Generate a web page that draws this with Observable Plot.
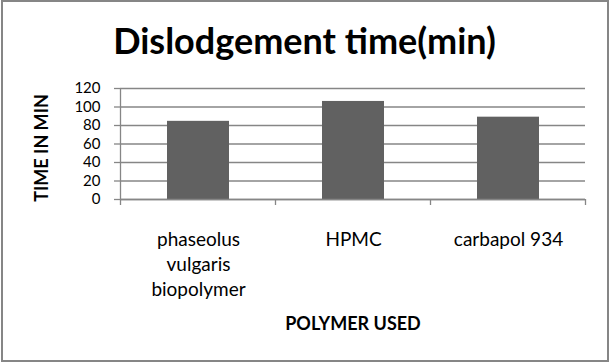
<!DOCTYPE html>
<html>
<head>
<meta charset="utf-8">
<script src="https://cdn.jsdelivr.net/npm/d3@7"></script>
<script src="https://cdn.jsdelivr.net/npm/@observablehq/plot@0.6"></script>
<style>
  body { margin: 0; background: #fff; }
  #wrap { position: relative; width: 609px; height: 362px; overflow: hidden; background: #fff; }
  #border { position: absolute; left: 1px; top: 0; width: 608px; height: 362px; box-sizing: border-box; border: 2px solid #868686; pointer-events: none; }
  #title { position: absolute; left: 0; width: 609px; top: 22px; text-align: center; font-family: Lato, sans-serif; font-weight: bold; font-size: 36px; line-height: 1; color: #000; }
  #chart { position: absolute; left: 0; top: 0; }
</style>
</head>
<body>
<div id="wrap">
  <div id="chart"></div>
  <div id="title">Dislodgement time(min)</div>
  <div id="border"></div>
</div>
<script>
// ---- data ----
const polymers = ["phaseolus vulgaris biopolymer", "HPMC", "carbapol 934"];
const tickLabels = ["phaseolus\nvulgaris\nbiopolymer", "HPMC", "carbapol 934"];
const times = [84.5, 106, 89];
const yTicks = [0, 20, 40, 60, 80, 100, 120];
const yLabel = "TIME IN MIN";
const xLabel = "POLYMER USED";

const data = polymers.map((p, i) => ({polymer: p, time: times[i]}));
const labelOf = new Map(polymers.map((p, i) => [p, tickLabels[i]]));

const gray = "#868686";
const barColor = "#616161";
const font = "Lato, sans-serif";

// boundary ticks on the category axis + left axis line, drawn from the scales
function categoryFrame(index, scales, values, dimensions) {
  const x = scales.x, y = scales.y;
  const {width, marginLeft, marginRight} = dimensions;
  const step = typeof x.step === "function" ? x.step() : (width - marginLeft - marginRight) / polymers.length;
  const bw = typeof x.bandwidth === "function" ? x.bandwidth() : step * 0.4;
  const half = (step - bw) / 2;
  const edges = [x(polymers[0]) - half, ...polymers.map(p => x(p) + bw + half)];
  const y0 = y(0), yTop = y(yTicks[yTicks.length - 1]);
  const g = d3.create("svg:g").attr("stroke", gray).attr("stroke-width", 1.3).attr("fill", "none");
  for (const e of edges) {
    g.append("line").attr("x1", e).attr("x2", e).attr("y1", y0).attr("y2", y0 + 6);
  }
  g.append("line").attr("x1", edges[0]).attr("x2", edges[0]).attr("y1", yTop).attr("y2", y0);
  return g.node();
}

const chart = Plot.plot({
  width: 609,
  height: 362,
  marginLeft: 120,
  marginRight: 24,
  marginTop: 88,
  marginBottom: 163,
  style: {background: "transparent", fontFamily: font, color: "#000", overflow: "visible"},
  x: {domain: polymers, paddingInner: 0.6, paddingOuter: 0.3, label: null},
  y: {domain: [0, 120], label: null},
  marks: [
    Plot.gridY(yTicks, {stroke: gray, strokeOpacity: 1, strokeWidth: 1.3}),
    Plot.barY(data, {x: "polymer", y: "time", fill: barColor}),
    Plot.ruleY([0], {stroke: gray, strokeWidth: 1.3}),
    categoryFrame,
    Plot.axisY({ticks: yTicks, tickSize: 6, tickPadding: 14, stroke: gray, strokeWidth: 1.3, fontSize: 15, fill: "#000", label: null}),
    Plot.axisX({tickSize: 0, tickPadding: 28, tickFormat: d => labelOf.get(d), fontSize: 19, lineHeight: 1.34, fill: "#000", label: null}),
    Plot.text([yLabel], {frameAnchor: "left", textAnchor: "middle", lineAnchor: "middle", rotate: -90, dx: -78, dy: 4, fontSize: 18, fontWeight: "bold", fill: "#000"}),
    Plot.text([xLabel], {frameAnchor: "bottom", lineAnchor: "middle", dy: 125, fontSize: 18, fontWeight: "bold", fill: "#000"})
  ]
});
document.getElementById("chart").appendChild(chart);
</script>
</body>
</html>
